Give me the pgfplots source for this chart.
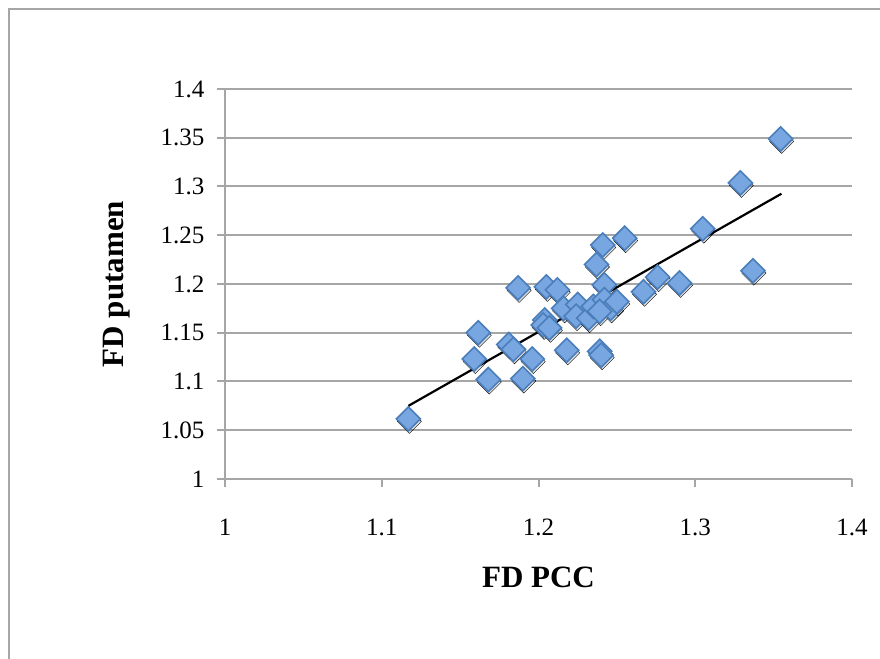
\documentclass[border=0pt]{standalone}
\usepackage{fontspec}
\setmainfont{Liberation Serif}
\usepackage{pgfplots}
\pgfplotsset{compat=1.18}
\definecolor{gridgray}{HTML}{A6A6A6}
\definecolor{markfill}{HTML}{78A6E0}
\definecolor{markedge}{HTML}{4A7EBB}

\pgfplotstableread{
x y
1.117 1.0616
1.1616 1.150
1.159 1.123
1.168 1.102
1.181 1.138
1.184 1.133
1.196 1.123
1.190 1.103
1.187 1.196
1.205 1.197
1.212 1.194
1.218 1.132
1.239 1.131
1.240 1.127
1.241 1.240
1.255 1.247
1.237 1.220
1.242 1.199
1.267 1.192
1.276 1.207
1.290 1.201
1.3048 1.2567
1.3288 1.3036
1.3545 1.3488
1.3368 1.2136
1.204 1.163
1.203 1.158
1.207 1.155
1.216 1.175
1.225 1.179
1.224 1.167
1.232 1.165
1.235 1.177
1.242 1.184
1.246 1.175
1.250 1.182
1.239 1.172
}\fdtable

\begin{document}
\begin{tikzpicture}[x=1pt,y=1pt]
\useasboundingbox (0,0) rectangle (880,658);
% chart area border
\draw[gridgray, line width=2pt] (9,-20) -- (9,649) -- (900,649);
\begin{axis}[
  at={(225pt,179pt)}, anchor=south west,
  scale only axis, width=627pt, height=390pt,
  xmin=1, xmax=1.4, ymin=1, ymax=1.4,
  xtick={1,1.1,1.2,1.3,1.4},
  ytick={1,1.05,1.1,1.15,1.2,1.25,1.3,1.35,1.4},
  axis x line*=bottom, axis y line*=left,
  axis line style={gridgray, line width=2pt, -},
  ymajorgrids, grid style={gridgray, line width=2pt},
  tick align=outside, major tick length=8pt,
  tick style={gridgray, line width=2pt},
  /pgf/number format/assume math mode=true,
  /pgf/number format/fixed,
  /pgf/number format/precision=2,
  ticklabel style={font=\fontsize{25}{25}\selectfont, text=black},
  xticklabel style={yshift=-28pt},
  yticklabel style={xshift=-9pt},
  label style={font=\fontsize{31}{31}\selectfont\bfseries},
  xlabel={FD PCC},
  ylabel={FD putamen},
  xlabel style={at={(axis description cs:0.5,-0.2531)}, anchor=center},
  ylabel style={at={(axis description cs:-0.1722,0.5)}, anchor=center},
]
% soft drop shadow under the markers
\addplot[only marks, mark=square*, mark size=8.5pt,
  mark options={xshift=1pt, yshift=-2.5pt, rotate=45, fill=black, fill opacity=0.12, draw=none}]
  table[x=x, y=y] {\fdtable};
\addplot[only marks, mark=square*, mark size=8.5pt,
  mark options={rotate=45, fill=markfill, draw=markedge, line width=1.6pt}]
  table[x=x, y=y] {\fdtable};
% linear trend line
\addplot[black, line width=2.2pt] coordinates {(1.117,1.075) (1.355,1.2926)};
\end{axis}
\end{tikzpicture}
\end{document}
